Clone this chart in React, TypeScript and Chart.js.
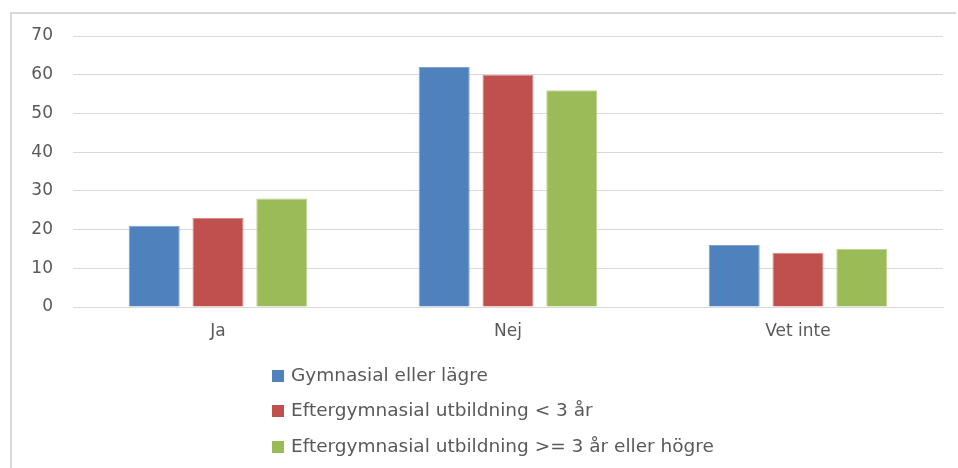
import React, { useEffect, useRef } from "react";
import { Chart, registerables } from "chart.js";

Chart.register(...registerables);

const categories = ["Ja", "Nej", "Vet inte"];
const seriesNames = [
  "Gymnasial eller lägre",
  "Eftergymnasial utbildning < 3 år",
  "Eftergymnasial utbildning >= 3 år eller högre",
];
const gymnasial = [21, 62, 16];
const eftergymnasialUnder3 = [23, 60, 14];
const eftergymnasial3Plus = [28, 56, 15];
const fillColors = ["#4F81BD", "#C0504D", "#9BBB59"];
const edgeColors = ["#7FA3D3", "#D98B89", "#BDD48F"];

const FONT = "'DejaVu Sans', sans-serif";
const TEXT = "#595959";

const legendPlugin = {
  id: "verticalLegend",
  afterDraw(chart: any) {
    const ctx = chart.ctx;
    ctx.save();
    ctx.font = `18.5px ${FONT}`;
    ctx.textBaseline = "middle";
    ctx.textAlign = "left";
    const rowsY = [376, 411, 447];
    chart.data.datasets.forEach((ds: any, i: number) => {
      const y = rowsY[i];
      ctx.fillStyle = ds.backgroundColor;
      ctx.fillRect(272, y - 6, 12, 12);
      ctx.fillStyle = TEXT;
      ctx.fillText(ds.label, 291, y);
    });
    ctx.restore();
  },
};

export default function App() {
  const ref = useRef<HTMLCanvasElement | null>(null);
  useEffect(() => {
    if (!ref.current) return;
    const values = [gymnasial, eftergymnasialUnder3, eftergymnasial3Plus];
    const chart = new Chart(ref.current, {
      type: "bar",
      data: {
        labels: categories,
        datasets: values.map((v, i) => ({
          label: seriesNames[i],
          data: v,
          backgroundColor: fillColors[i],
          borderColor: edgeColors[i],
          borderWidth: 1,
          categoryPercentage: 0.66,
          barPercentage: 0.8,
        })),
      },
      options: {
        animation: false,
        responsive: false,
        maintainAspectRatio: false,
        layout: { padding: { left: 0, right: 15, top: 36, bottom: 121 } },
        plugins: {
          legend: { display: false },
          tooltip: { enabled: false },
        },
        scales: {
          x: {
            grid: { display: false, drawTicks: false },
            border: { display: true, color: "#d9d9d9", width: 1 },
            ticks: {
              color: TEXT,
              font: { family: FONT, size: 17 },
              padding: 14,
            },
            afterFit: (s: any) => {
              s.height = 40;
            },
          },
          y: {
            min: 0,
            max: 70,
            ticks: {
              stepSize: 10,
              color: TEXT,
              font: { family: FONT, size: 17 },
              padding: 20,
            },
            grid: { color: "#d9d9d9", lineWidth: 1, drawTicks: false },
            border: { display: false },
            afterFit: (s: any) => {
              s.width = 73;
            },
          },
        },
      },
      plugins: [legendPlugin],
    });
    return () => chart.destroy();
  }, []);

  return (
    <div style={{ position: "absolute", left: 0, top: 0, width: 958, height: 468, background: "#fff", overflow: "hidden" }}>
      <div
        style={{
          position: "absolute",
          left: 10,
          top: 12,
          width: 944,
          height: 456,
          borderLeft: "2px solid #d9d9d9",
          borderTop: "2px solid #d9d9d9",
        }}
      />
      <canvas ref={ref} width={958} height={468} style={{ position: "absolute", left: 0, top: 0 }} />
    </div>
  );
}
